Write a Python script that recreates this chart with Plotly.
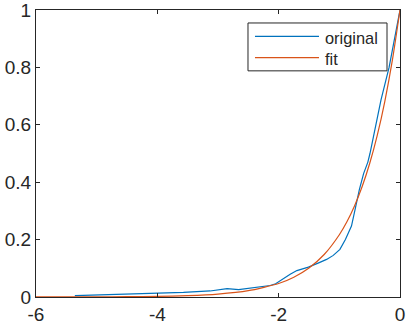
import plotly.graph_objects as go

# original data
orig_x = [-5.36, -5.0, -4.5, -4.12, -3.96, -3.57, -3.13, -2.95, -2.85, -2.66, -2.47,
          -2.30, -2.14, -2.05, -1.98, -1.90, -1.81, -1.70, -1.51, -1.35, -1.21, -1.10,
          -0.99, -0.90, -0.80, -0.74, -0.67, -0.60, -0.577, -0.53, -0.495, -0.40,
          -0.313, -0.18, -0.09, 0.0]
orig_y = [0.005, 0.007, 0.009, 0.0125, 0.014, 0.016, 0.021, 0.025, 0.029, 0.026, 0.032,
          0.036, 0.040, 0.046, 0.056, 0.069, 0.079, 0.092, 0.104, 0.118, 0.131, 0.145,
          0.166, 0.20, 0.247, 0.305, 0.374, 0.43, 0.444, 0.47, 0.50, 0.60,
          0.687, 0.80, 0.90, 1.0]

# fitted curve values
fit_x = [-6.0, -5.5, -5.0, -4.5, -4.0, -3.5, -3.0, -2.5, -2.0, -1.75, -1.5, -1.25,
         -1.0, -0.875, -0.75, -0.625, -0.5, -0.375, -0.25, -0.125, 0.0]
fit_y = [0.0001, 0.0002, 0.0005, 0.001, 0.0022, 0.0047, 0.010, 0.022, 0.047, 0.069,
         0.101, 0.148, 0.217, 0.262, 0.317, 0.384, 0.465, 0.563, 0.682, 0.826, 1.0]

series_names = ["original", "fit"]
series_colors = ["#0072BD", "#D95319"]

x_ticks = [-6, -4, -2, 0]
y_ticks = [0, 0.2, 0.4, 0.6, 0.8, 1]
y_ticklabels = ["0", "0.2", "0.4", "0.6", "0.8", "1"]

axcol = "rgb(38,38,38)"
fig = go.Figure()
fig.add_trace(go.Scatter(x=orig_x, y=orig_y, mode="lines", name=series_names[0],
                         line=dict(color=series_colors[0], width=1.2)))
fig.add_trace(go.Scatter(x=fit_x, y=fit_y, mode="lines", name=series_names[1],
                         line=dict(color=series_colors[1], width=1.2,
                                   shape="spline", smoothing=0.6)))

# MATLAB-style legend box (drawn in paper coordinates)
shapes = [dict(type="rect", xref="paper", yref="paper", x0=0.5824, x1=0.9643,
               y0=0.788, y1=0.9548, line=dict(color=axcol, width=1),
               fillcolor="white", layer="above")]
annotations = []
row_y = [0.908, 0.834]
for name, col, yy in zip(series_names, series_colors, row_y):
    shapes.append(dict(type="line", xref="paper", yref="paper", x0=0.6016, x1=0.7775,
                       y0=yy, y1=yy, line=dict(color=col, width=1.2), layer="above"))
    annotations.append(dict(xref="paper", yref="paper", x=0.789, y=yy - 0.004,
                            text=name, showarrow=False, xanchor="left",
                            yanchor="middle", font=dict(size=16.4, color=axcol)))

fig.update_layout(
    width=407, height=325,
    margin=dict(l=36, r=7, t=10, b=28),
    paper_bgcolor="white", plot_bgcolor="white",
    font=dict(family="Liberation Sans, Arial, sans-serif", size=19, color=axcol),
    showlegend=False,
    shapes=shapes, annotations=annotations,
    xaxis=dict(range=[-6, 0], tickvals=x_ticks, ticktext=[str(v) for v in x_ticks],
               showgrid=False, zeroline=False, showline=True, linecolor=axcol,
               linewidth=1, mirror="ticks", ticks="inside", ticklen=4,
               tickcolor=axcol, tickfont=dict(size=19, color=axcol),
               automargin=False, ticklabeloverflow="allow"),
    yaxis=dict(range=[0, 1], tickvals=y_ticks, ticktext=y_ticklabels,
               showgrid=False, zeroline=False, showline=True, linecolor=axcol,
               linewidth=1, mirror="ticks", ticks="inside", ticklen=4,
               tickcolor=axcol, tickfont=dict(size=19, color=axcol),
               automargin=False, ticklabeloverflow="allow"),
)

fig.write_html("out.html")
